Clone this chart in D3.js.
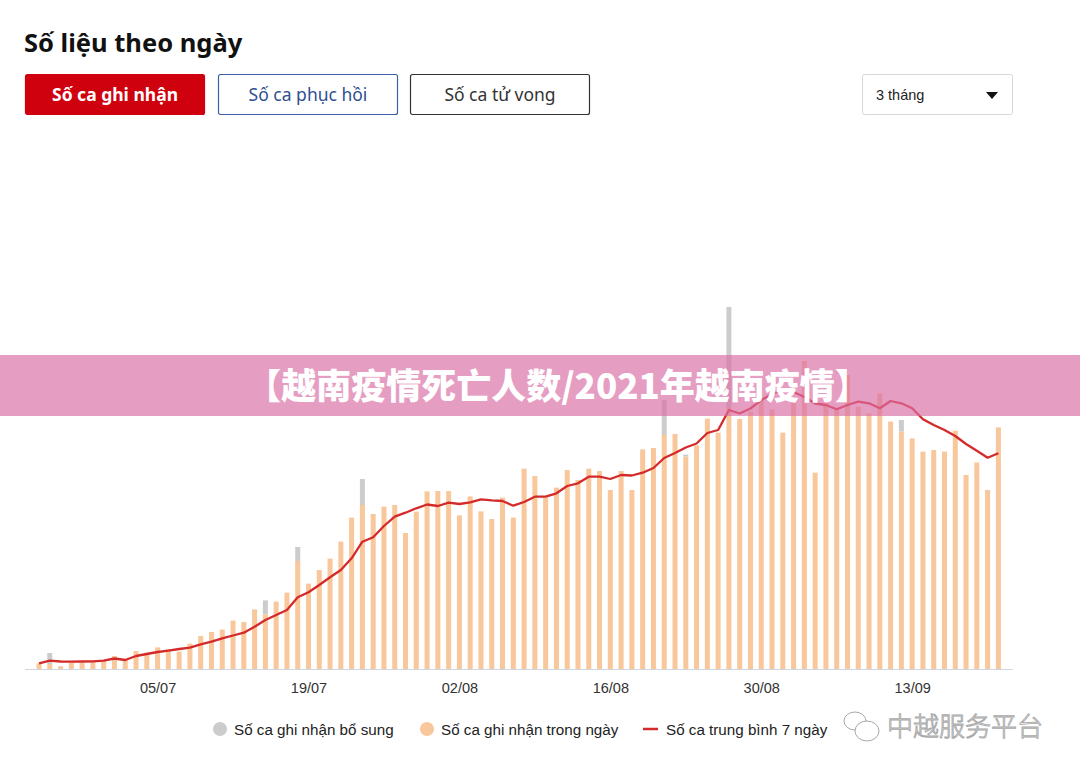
<!DOCTYPE html>
<html>
<head>
<meta charset="utf-8">
<script src="https://cdn.jsdelivr.net/npm/d3@7"></script>
<style>
  html, body { margin: 0; padding: 0; background: #fff; }
  svg { display: block; }
</style>
</head>
<body>
<svg id="chart" width="1080" height="773"></svg>
<script>
// ---------- data ----------
const startDate = "2021-06-24";
const dailyCases = [285,250,135,315,300,350,450,650,480,900,820,1080,1000,870,1270,1650,1850,1970,2420,2350,
  2980,2730,3370,3820,5400,4270,4950,5520,6370,7570,8200,7750,8120,8200,6800,7870,8880,8900,8900,7680,
  8630,7880,7500,8570,7570,10020,9650,8570,9070,9950,9450,10020,9900,8950,9900,8950,10980,11050,11700,11750,
  10620,11180,12520,11820,13100,12500,12870,13450,12980,11820,13300,15400,9820,13300,12980,14700,13120,12780,13780,12370,
  11870,11530,10870,10950,10870,11920,9700,10330,8950,12080];
const extraCases = {1:550, 21:700, 24:700, 30:1300, 58:1750, 60:100, 64:5000, 80:580};
const avg7 = [285,415,375,365,375,385,415,525,450,650,750,850,915,1000,1065,1235,1365,1535,1675,1815,
  2115,2450,2700,2950,3585,3835,4200,4585,4950,5535,6365,6585,7150,7615,7815,8035,8225,8150,8315,8250,
  8335,8485,8435,8400,8165,8350,8615,8615,8785,9150,9285,9615,9615,9500,9700,9675,9815,10050,10550,10800,
  11075,11275,11800,11950,12950,12775,13025,13450,13750,13950,13850,13600,13275,13200,12985,13200,13365,13285,13035,13400,
  13285,13035,12485,12200,11950,11650,11250,10915,10565,10785];
const tickLabels = ["05/07","19/07","02/08","16/08","30/08","13/09"];
const tabs = ["Số ca ghi nhận","Số ca phục hồi","Số ca tử vong"];
const legendLabels = ["Số ca ghi nhận bổ sung","Số ca ghi nhận trong ngày","Số ca trung bình 7 ngày"];
const bannerText = "【越南疫情死亡人数/2021年越南疫情】";
const watermarkText = "中越服务平台";
const rangeLabel = "3 tháng";

// ---------- setup ----------
const svg = d3.select("#chart");
const fmt = d3.timeFormat("%d/%m");
const parse = d3.timeParse("%Y-%m-%d");
const t0 = parse(startDate);
const dates = dailyCases.map((_, i) => d3.timeDay.offset(t0, i));
const labels = dates.map(fmt);
const idx = d3.range(dailyCases.length);

const x = d3.scalePoint().domain(idx).range([39, 998.4]);
const y = d3.scaleLinear().domain([0, 20000]).range([669, 269]);
const barW = 5;

// title
svg.append("text").attr("x", 24).attr("y", 52)
  .attr("font-family", "'Noto Sans', 'Open Sans', sans-serif").attr("font-weight", 700)
  .attr("font-size", 25.5).attr("fill", "#111").text("Số liệu theo ngày");

// tabs
const tabX = [25, 218, 410];
const tabStyles = [
  {fill: "#d0010f", stroke: "#d0010f", color: "#fff", weight: 700},
  {fill: "#fff", stroke: "#3a5fa8", color: "#2f4f8f", weight: 400},
  {fill: "#fff", stroke: "#333", color: "#333", weight: 400}
];
tabs.forEach((t, i) => {
  const g = svg.append("g").attr("transform", `translate(${tabX[i]},74)`);
  g.append("rect").attr("x", 0.5).attr("y", 0.5).attr("width", 179).attr("height", 40).attr("rx", 2)
    .attr("fill", tabStyles[i].fill).attr("stroke", tabStyles[i].stroke).attr("stroke-width", 1.2);
  g.append("text").attr("x", 90).attr("y", 27).attr("text-anchor", "middle")
    .attr("font-family", "'Noto Sans', 'Open Sans', sans-serif").attr("font-size", 17.5)
    .attr("font-weight", tabStyles[i].weight).attr("fill", tabStyles[i].color).text(t);
});

// dropdown
const dd = svg.append("g").attr("transform", "translate(862,74)");
dd.append("rect").attr("x", 0.5).attr("y", 0.5).attr("width", 150).attr("height", 40).attr("rx", 2)
  .attr("fill", "#fff").attr("stroke", "#d6d6d6");
dd.append("text").attr("x", 14).attr("y", 26).attr("font-family", "'Liberation Sans', Arial, sans-serif")
  .attr("font-size", 14.5).attr("fill", "#222").text(rangeLabel);
dd.append("path").attr("d", "M124,18 L136,18 L130,25 Z").attr("fill", "#111");

// bars
const plot = svg.append("g");
plot.selectAll("rect.extra").data(Object.entries(extraCases)).join("rect")
  .attr("class", "extra")
  .attr("x", d => x(+d[0]) - barW / 2)
  .attr("y", d => y(dailyCases[+d[0]] + d[1]))
  .attr("width", barW)
  .attr("height", d => y(dailyCases[+d[0]]) - y(dailyCases[+d[0]] + d[1]))
  .attr("fill", "#cccccc");
plot.selectAll("rect.daily").data(idx).join("rect")
  .attr("class", "daily")
  .attr("x", i => x(i) - barW / 2)
  .attr("y", i => y(dailyCases[i]))
  .attr("width", barW)
  .attr("height", i => y(0) - y(dailyCases[i]))
  .attr("fill", "#f8c79b");

// baseline
svg.append("line").attr("x1", 25).attr("x2", 1013).attr("y1", 669.5).attr("y2", 669.5)
  .attr("stroke", "#cdd6e2").attr("stroke-width", 1.2);

// line
const line = d3.line().x(i => x(i)).y(i => y(avg7[i]));
svg.append("path").datum(idx).attr("d", line).attr("fill", "none")
  .attr("stroke", "#d42a2a").attr("stroke-width", 2.3).attr("stroke-linejoin", "round");

// x axis
const tickIdx = tickLabels.map(l => labels.indexOf(l));
const axis = d3.axisBottom(x).tickValues(tickIdx).tickFormat(i => labels[i]).tickSize(0).tickPadding(14);
const ax = svg.append("g").attr("transform", "translate(0,669)").call(axis);
ax.select(".domain").remove();
ax.selectAll("text").attr("font-family", "'Liberation Sans', Arial, sans-serif").attr("font-size", 14.5).attr("fill", "#333");

// legend
const lg = svg.append("g").attr("font-family", "'Liberation Sans', Arial, sans-serif").attr("font-size", 15.2).attr("fill", "#222");
lg.append("circle").attr("cx", 220).attr("cy", 729).attr("r", 7).attr("fill", "#cccccc");
lg.append("text").attr("x", 234).attr("y", 734.5).text(legendLabels[0]);
lg.append("circle").attr("cx", 427).attr("cy", 729).attr("r", 7).attr("fill", "#f8c79b");
lg.append("text").attr("x", 441).attr("y", 734.5).text(legendLabels[1]);
lg.append("line").attr("x1", 643).attr("x2", 658).attr("y1", 729).attr("y2", 729).attr("stroke", "#d42a2a").attr("stroke-width", 2.5);
lg.append("text").attr("x", 666).attr("y", 734.5).text(legendLabels[2]);

// watermark
const wm = svg.append("g").attr("fill", "#fff").attr("stroke", "#a8a8a8").attr("stroke-width", 1);
wm.append("ellipse").attr("cx", 855).attr("cy", 721).attr("rx", 11).attr("ry", 9);
wm.append("ellipse").attr("cx", 867).attr("cy", 731).attr("rx", 12).attr("ry", 10);
wm.append("text").attr("x", 887).attr("y", 736).attr("font-family", "'Noto Sans CJK SC', sans-serif")
  .attr("font-weight", 300).attr("font-size", 26).attr("stroke-width", 0.9).text(watermarkText);

// banner overlay
svg.append("rect").attr("x", 0).attr("y", 355).attr("width", 1080).attr("height", 61)
  .attr("fill", "rgb(218,110,165)").attr("opacity", 0.68);
svg.append("text").attr("x", 558).attr("y", 399).attr("text-anchor", "middle")
  .attr("font-family", "'Noto Sans CJK SC', sans-serif").attr("font-weight", 900)
  .attr("font-size", 35).attr("fill", "#fff").text(bannerText);
</script>
</body>
</html>
